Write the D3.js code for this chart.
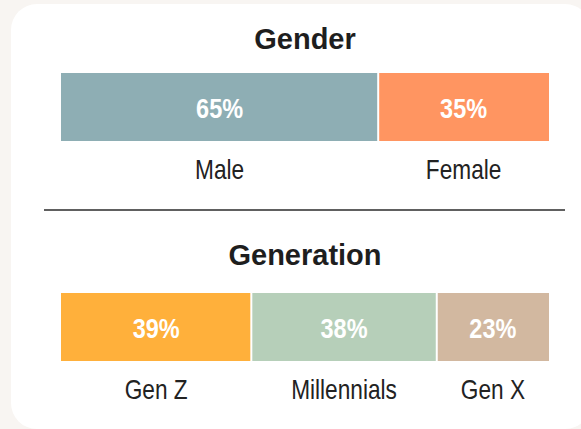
<!DOCTYPE html>
<html lang="en">
<head>
<meta charset="utf-8">
<title>Gender and Generation split</title>
<script src="https://cdn.jsdelivr.net/npm/d3@7"></script>
<style>
  html, body { margin: 0; padding: 0; background: #f8f5f2; }
  svg { display: block; }
  .title { font-family: "Liberation Sans", Arial, sans-serif; font-weight: bold; font-size: 29px; fill: #1e1e1e; }
  .pct { font-family: "Liberation Sans", Arial, sans-serif; font-weight: bold; font-size: 28px; fill: #ffffff; }
  .lbl { font-family: "Liberation Sans", Arial, sans-serif; font-size: 27px; fill: #222222; }
</style>
</head>
<body>
<svg id="chart" width="581" height="429"></svg>
<script>
// data
var genderCats = ["Male", "Female"];
var genderVals = [65, 35];
var genderColors = ["#8eaeb4", "#ff9561"];

var genCats = ["Gen Z", "Millennials", "Gen X"];
var genVals = [39, 38, 23];
var genColors = ["#ffb03b", "#b6cfb9", "#d2b8a0"];

var svg = d3.select("#chart");

// white card, runs off the right and bottom edge
svg.append("rect")
   .attr("x", 11).attr("y", 4)
   .attr("width", 580).attr("height", 425)
   .attr("rx", 26).attr("ry", 26)
   .attr("fill", "#ffffff");

var x = d3.scaleLinear().domain([0, 100]).range([61, 549]);

// no narrow font installed, so squeeze the text sideways
var narrow = 0.84;

/** draws one stacked 100% bar with its title and labels */
function stackBar(title, titleY, barY, cats, vals, colors) {
    var g = svg.append("g");
    var barH = 68;

    g.append("text")
     .attr("class", "title")
     .attr("x", x(50)).attr("y", titleY)
     .attr("text-anchor", "middle")
     .text(title);

    // running start of each segment
    var starts = [];
    var acc = 0;
    vals.forEach(function(v) { starts.push(acc); acc += v; });

    var segs = cats.map(function(c, i) {
        return { cat: c, val: vals[i], start: starts[i], color: colors[i], i: i };
    });

    g.selectAll(".seg")
     .data(segs)
     .enter().append("rect")
     .attr("class", "seg")
     .attr("x", function(d) { return x(d.start) + (d.i > 0 ? 1 : 0); })
     .attr("y", barY)
     .attr("width", function(d) {
         var w = x(d.start + d.val) - x(d.start);
         if (d.i > 0) w -= 1;
         if (d.i < segs.length - 1) w -= 1;
         return w;
     })
     .attr("height", barH)
     .attr("fill", function(d) { return d.color; });

    g.selectAll(".pct")
     .data(segs)
     .enter().append("text")
     .attr("class", "pct")
     .attr("transform", function(d) {
         return "translate(" + x(d.start + d.val / 2) + "," + (barY + barH / 2 + 11) + ") scale(" + narrow + ",1)";
     })
     .attr("text-anchor", "middle")
     .text(function(d) { return d.val + "%"; });

    g.selectAll(".lbl")
     .data(segs)
     .enter().append("text")
     .attr("class", "lbl")
     .attr("transform", function(d) {
         return "translate(" + x(d.start + d.val / 2) + "," + (barY + barH + 38) + ") scale(" + narrow + ",1)";
     })
     .attr("text-anchor", "middle")
     .text(function(d) { return d.cat; });
}

stackBar("Gender", 49, 73, genderCats, genderVals, genderColors);

// divider between the two blocks
svg.append("line")
   .attr("x1", 44).attr("x2", 565)
   .attr("y1", 210).attr("y2", 210)
   .attr("stroke", "#2b2b2b")
   .attr("stroke-width", 1.6);

stackBar("Generation", 265, 293, genCats, genVals, genColors);
</script>
</body>
</html>
